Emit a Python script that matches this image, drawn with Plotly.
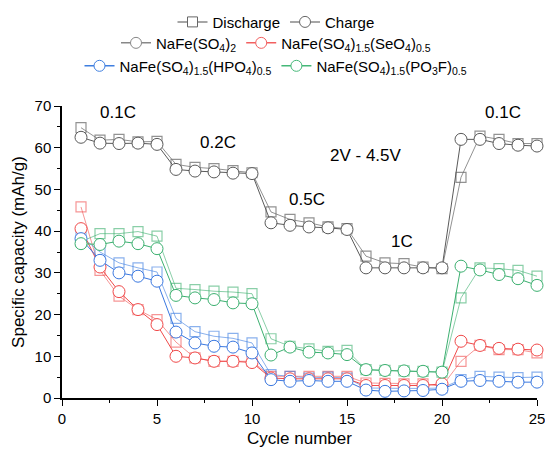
import plotly.graph_objects as go

cycles = list(range(1, 26))

gray_dis = [64.8, 61.8, 62.0, 61.4, 61.5, 56.0, 55.3, 55.0, 54.5, 54.0, 44.6, 42.8, 42.0, 41.0, 40.6,
            34.0, 32.4, 32.2, 31.4, 31.0, 52.9, 62.8, 62.0, 61.0, 61.0]
gray_chg = [62.5, 61.1, 61.0, 61.1, 60.8, 54.8, 54.4, 54.2, 53.9, 53.8, 42.0, 41.4, 41.0, 40.8, 40.4,
            31.2, 31.2, 31.2, 31.2, 31.2, 62.0, 62.0, 61.0, 60.6, 60.4]
red_dis = [45.8, 30.6, 24.4, 21.2, 18.8, 13.4, 9.6, 8.8, 8.8, 8.8, 5.2, 5.2, 5.2, 5.2, 5.2,
           3.6, 3.5, 3.4, 3.4, 2.8, 8.8, 12.6, 11.6, 11.6, 10.8]
red_chg = [40.6, 31.4, 25.5, 21.2, 17.6, 10.0, 9.6, 8.8, 8.8, 8.5, 4.8, 4.6, 4.6, 4.6, 4.6,
           3.0, 3.0, 3.0, 3.0, 3.4, 13.6, 12.6, 11.9, 11.7, 11.5]
blue_dis = [38.8, 35.0, 32.4, 31.2, 30.2, 19.1, 15.9, 14.8, 14.3, 13.2, 5.6, 5.2, 4.8, 5.0, 4.8,
            2.4, 2.3, 2.3, 2.3, 2.4, 4.4, 5.2, 5.0, 4.9, 5.0]
blue_chg = [38.2, 33.0, 30.0, 29.2, 28.0, 15.8, 13.2, 12.4, 12.2, 10.8, 4.4, 4.0, 4.2, 4.0, 4.0,
            1.9, 1.6, 1.7, 1.8, 2.1, 4.0, 4.2, 4.0, 3.8, 3.8]
green_dis = [37.5, 39.4, 39.4, 39.9, 38.8, 26.3, 26.0, 25.6, 25.4, 25.0, 14.2, 12.4, 11.8, 11.2, 11.4,
             6.8, 6.6, 6.5, 6.4, 6.2, 24.0, 31.2, 31.0, 30.6, 29.2]
green_chg = [37.0, 36.8, 37.6, 37.0, 35.8, 24.6, 24.0, 23.6, 22.8, 22.6, 10.3, 12.2, 11.0, 10.8, 10.4,
             6.8, 6.6, 6.5, 6.4, 6.2, 31.6, 30.7, 29.6, 28.6, 27.0]

materials = ["NaFe(SO<sub>4</sub>)<sub>2</sub>",
             "NaFe(SO<sub>4</sub>)<sub>1.5</sub>(SeO<sub>4</sub>)<sub>0.5</sub>",
             "NaFe(SO<sub>4</sub>)<sub>1.5</sub>(HPO<sub>4</sub>)<sub>0.5</sub>",
             "NaFe(SO<sub>4</sub>)<sub>1.5</sub>(PO<sub>3</sub>F)<sub>0.5</sub>"]

labels = ["0.1C", "0.2C", "0.5C", "1C", "2V - 4.5V", "0.1C"]
label_x = [2.95, 8.2, 12.9, 17.9, 16.0, 23.2]
label_y = [68.5, 61.3, 47.6, 37.6, 58.2, 68.4]

series = [
    (gray_dis, gray_chg, "#5a5a5a", "rgba(110,110,110,0.75)"),
    (red_dis, red_chg, "#f04a4a", "rgba(240,80,80,0.6)"),
    (blue_dis, blue_chg, "#3a78e0", "rgba(60,125,225,0.6)"),
    (green_dis, green_chg, "#3cb070", "rgba(60,175,110,0.6)"),
]

FONT = "Arial, Liberation Sans, sans-serif"
fig = go.Figure()

for dis, chg, col, lcol in series:
    fig.add_trace(go.Scatter(
        x=cycles, y=dis, mode="lines+markers", showlegend=False, cliponaxis=False,
        line=dict(color=lcol, width=1),
        marker=dict(symbol="square", size=10, color="rgba(255,255,255,0)",
                    line=dict(color=lcol, width=1.2)),
    ))
for dis, chg, col, lcol in series:
    fig.add_trace(go.Scatter(
        x=cycles, y=chg, mode="lines+markers", showlegend=False, cliponaxis=False,
        line=dict(color=col, width=1),
        marker=dict(symbol="circle", size=12, color="white",
                    line=dict(color=col, width=1)),
    ))

# legend entries
fig.add_trace(go.Scatter(x=[None], y=[None], mode="lines+markers", name="Discharge", legend="legend",
                         line=dict(color="#888", width=1.5),
                         marker=dict(symbol="square", size=10, color="white", line=dict(color="#666", width=1))))
fig.add_trace(go.Scatter(x=[None], y=[None], mode="lines+markers", name="Charge", legend="legend",
                         line=dict(color="#888", width=1.5),
                         marker=dict(symbol="circle", size=11, color="white", line=dict(color="#666", width=1))))
leg_cols = ["#888888", "#f26060", "#3f7fe0", "#45b878"]
leg_ids = ["legend2", "legend2", "legend3", "legend3"]
for name, c, lid in zip(materials, leg_cols, leg_ids):
    fig.add_trace(go.Scatter(x=[None], y=[None], mode="lines+markers", name=name, legend=lid,
                             line=dict(color=c, width=1.5),
                             marker=dict(symbol="circle", size=11, color="white", line=dict(color=c, width=1))))

for t, x, y in zip(labels, label_x, label_y):
    fig.add_annotation(x=x, y=y, text=t, showarrow=False, font=dict(size=17, color="black", family=FONT))

plot_h = 452 - 106 - 53.5
def py(pix):
    return (398.5 - pix) / plot_h

leg_common = dict(orientation="h", x=(276 - 62) / 475, xanchor="center", yanchor="middle",
                  font=dict(size=15, color="black", family=FONT), bgcolor="rgba(0,0,0,0)",
                  tracegroupgap=0, itemwidth=30)

fig.update_layout(
    width=545, height=452,
    margin=dict(l=62, r=8, t=106, b=53.5, autoexpand=False),
    paper_bgcolor="white", plot_bgcolor="white",
    font=dict(family=FONT, color="black"),
    legend=dict(**leg_common, y=py(22)),
    legend2=dict(**leg_common, y=py(43)),
    legend3=dict(**leg_common, y=py(66)),
    xaxis=dict(range=[0, 25], showgrid=False, zeroline=False, showline=True, linecolor="black", linewidth=1.5,
               ticks="outside", ticklen=6, tickwidth=1.2, tickcolor="black", dtick=5, tick0=0,
               ticklabeloverflow="allow",
               minor=dict(ticks="outside", ticklen=3, dtick=2.5, tickcolor="black", tickwidth=1.2),
               tickfont=dict(size=15), title=dict(text="Cycle number", font=dict(size=17), standoff=6)),
    yaxis=dict(range=[0, 70], showgrid=False, zeroline=False, showline=True, linecolor="black", linewidth=1.5,
               ticks="outside", ticklen=6, tickwidth=1.2, tickcolor="black", dtick=10, tick0=0,
               ticklabeloverflow="allow",
               minor=dict(ticks="outside", ticklen=3, dtick=5, tickcolor="black", tickwidth=1.2),
               tickfont=dict(size=15), title=dict(text="Specific capacity (mAh/g)", font=dict(size=17), standoff=6)),
)

fig.write_html("out.html", config={"displayModeBar": False},
               post_script="document.body.style.margin='0';document.body.style.overflow='hidden';")
